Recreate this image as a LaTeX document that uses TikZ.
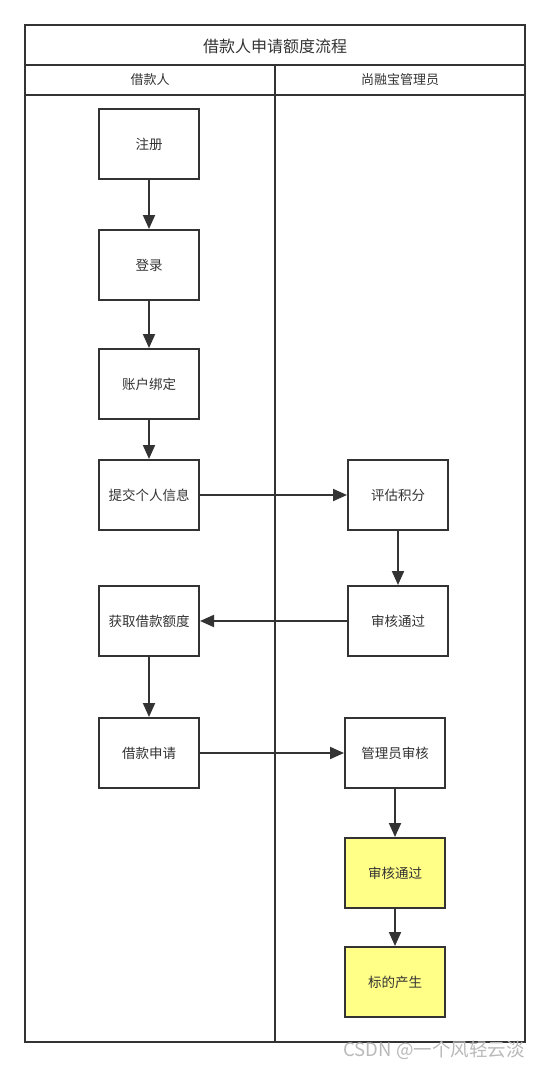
\documentclass[tikz,border=0pt]{standalone}
\usepackage{fontspec}
\setmainfont{Noto Sans CJK SC}
\usetikzlibrary{arrows.meta}
\definecolor{linegray}{HTML}{333333}
\definecolor{boxyellow}{HTML}{FFFF88}
\tikzset{
  stepbox/.style={draw=linegray,line width=2pt,minimum width=100pt,minimum height=70pt,
    inner sep=0pt,font=\fontsize{13.5pt}{15pt}\selectfont,text=linegray},
  hibox/.style={stepbox,fill=boxyellow},
  flow/.style={draw=linegray,line width=2pt,-{Triangle[length=14pt,width=12pt]}},
}
\begin{document}
\begin{tikzpicture}[x=1pt,y=-1pt]
\useasboundingbox (0,0) rectangle (550,1068);
%pool and lanes
\draw[linegray,line width=2pt](25,25) rectangle (525,1042);
\draw[linegray,line width=2pt](25,65)--(525,65);
\draw[linegray,line width=2pt](25,95)--(525,95);
\draw[linegray,line width=2pt](275,65)--(275,1042);
%labels
\node[font=\fontsize{16pt}{18pt}\selectfont,text=linegray](title)at(275,46){借款人申请额度流程};
\node[font=\fontsize{13pt}{15pt}\selectfont,text=linegray](lane1)at(150,80){借款人};
\node[font=\fontsize{13pt}{15pt}\selectfont,text=linegray](lane2)at(400,80){尚融宝管理员};
%borrower
\node[stepbox](reg)at(149,144){注册};
\node[stepbox](login)at(149,265){登录};
\node[stepbox](bind)at(149,384){账户绑定};
\node[stepbox](info)at(149,495){提交个人信息};
\node[stepbox](quota)at(149,621){获取借款额度};
\node[stepbox](apply)at(149,753){借款申请};
%manager
\node[stepbox](score)at(398,495){评估积分};
\node[stepbox](pass1)at(398,621){审核通过};
\node[stepbox](check)at(395,753){管理员审核};
\node[hibox](pass2)at(395,873){审核通过};
\node[hibox](bid)at(395,982){标的产生};
%arrows
\draw[flow](reg)--(login);
\draw[flow](login)--(bind);
\draw[flow](bind)--(info);
\draw[flow](info)--(score);
\draw[flow](score)--(pass1);
\draw[flow](pass1)--(quota);
\draw[flow](quota)--(apply);
\draw[flow](apply)--(check);
\draw[flow](check)--(pass2);
\draw[flow](pass2)--(bid);
%watermark
\node[font=\fontsize{18.5pt}{20pt}\selectfont,text=gray!55,anchor=west](mark)at(340,1050){CSDN @一个风轻云淡};
\end{tikzpicture}
\end{document}
